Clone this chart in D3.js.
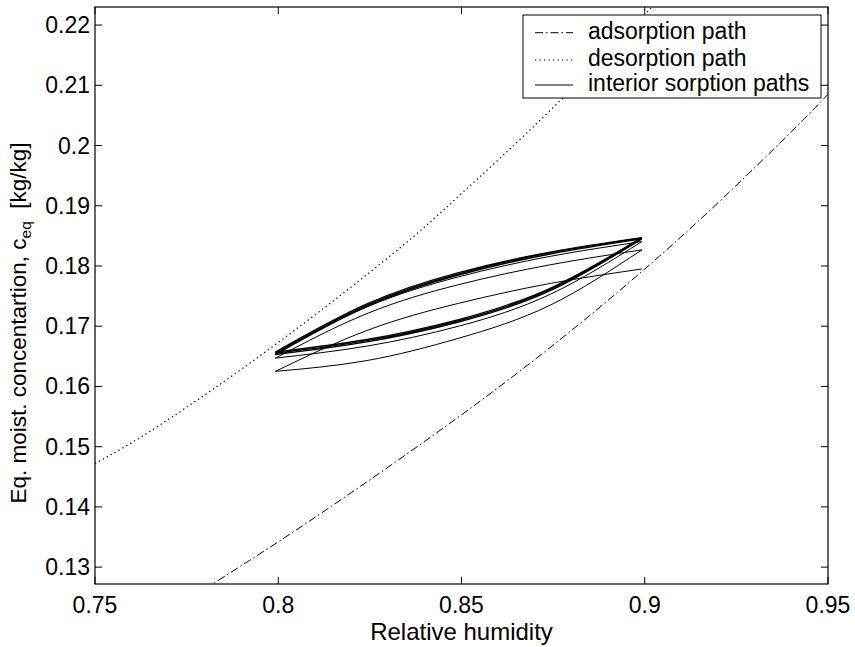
<!DOCTYPE html>
<html>
<head>
<meta charset="utf-8">
<script src="https://cdn.jsdelivr.net/npm/d3@7"></script>
<style>
  html, body { margin: 0; padding: 0; background: #fff; }
  svg text { font-family: "Liberation Sans", Arial, Helvetica, sans-serif; fill: #000; }
</style>
</head>
<body>
<svg id="chart" width="855" height="647"></svg>
<script>
// ---------------- data ----------------
const xTicks = [0.75, 0.8, 0.85, 0.9, 0.95];
const xTickLabels = ["0.75", "0.8", "0.85", "0.9", "0.95"];
const yTicks = [0.13, 0.14, 0.15, 0.16, 0.17, 0.18, 0.19, 0.2, 0.21, 0.22];
const yTickLabels = ["0.13", "0.14", "0.15", "0.16", "0.17", "0.18", "0.19", "0.2", "0.21", "0.22"];
const xDomain = [0.75, 0.95];
const yDomain = [0.1272, 0.2230];

// adsorption boundary (dash-dot)
const adsX = [0.780, 0.800, 0.820, 0.840, 0.860, 0.880, 0.900, 0.920, 0.940, 0.950];
const adsY = [0.1264, 0.1342, 0.1424, 0.1509, 0.1598, 0.1693, 0.1795, 0.1905, 0.2023, 0.2085];

// desorption boundary (dotted)
const desX = [0.750, 0.7677, 0.7991, 0.8314, 0.8496, 0.875, 0.902, 0.912];
const desY = [0.1472, 0.1536, 0.1669, 0.1821, 0.1918, 0.2063, 0.2230, 0.2292];

// interior sorption paths: RH positions and concentrations along each pass
const interiorX = [0.7992, 0.8242, 0.8492, 0.8742, 0.8992];
const pathD = [0.1625, 0.1693, 0.1738, 0.1771, 0.1795];   // first desorption scan
const pathE = [0.1625, 0.1643, 0.1680, 0.1735, 0.18267];  // adsorption scan
const pathF = [0.1647, 0.1721, 0.1769, 0.1802, 0.18267];  // desorption scan
const pathG = [0.1647, 0.1667, 0.1700, 0.1753, 0.18405];  // adsorption scan
const pathH = [0.1655, 0.1732, 0.1782, 0.1816, 0.18405];  // desorption scan
const loopUp1 = [0.1655, 0.1735, 0.1787, 0.1822, 0.18463]; // steady loop, upper branch
const loopUp2 = [0.1653, 0.1733, 0.1785, 0.1820, 0.18450];
const loopUp3 = [0.1657, 0.1737, 0.1789, 0.1823, 0.18470];
const loopLo1 = [0.1655, 0.1676, 0.1709, 0.1761, 0.18463]; // steady loop, lower branch
const loopLo2 = [0.1653, 0.1674, 0.1707, 0.1759, 0.18450];
const loopLo3 = [0.1657, 0.1678, 0.1711, 0.1763, 0.18470];

const legendLabels = ["adsorption path", "desorption path", "interior sorption paths"];

// ---------------- chart ----------------
const svg = d3.select("#chart");
const pL = 95, pR = 828, pT = 7, pB = 584;
const x = d3.scaleLinear().domain(xDomain).range([pL, pR]);
const y = d3.scaleLinear().domain(yDomain).range([pB, pT]);

svg.append("defs").append("clipPath").attr("id", "plotclip")
  .append("rect").attr("x", pL).attr("y", pT).attr("width", pR - pL).attr("height", pB - pT);

const plot = svg.append("g").attr("clip-path", "url(#plotclip)");
const line = d3.line().x(d => x(d[0])).y(d => y(d[1])).curve(d3.curveNatural);
const zip = (xs, ys) => xs.map((v, i) => [v, ys[i]]);

plot.append("path").attr("d", line(zip(adsX, adsY)))
  .attr("fill", "none").attr("stroke", "#000").attr("stroke-width", 1)
  .attr("stroke-dasharray", "8,3,1.5,3");
plot.append("path").attr("d", line(zip(desX, desY)))
  .attr("fill", "none").attr("stroke", "#000").attr("stroke-width", 1.2)
  .attr("stroke-dasharray", "1.3,3.2");

const interior = [pathD, pathE, pathF, pathG, pathH];
interior.forEach(p => {
  plot.append("path").attr("d", line(zip(interiorX, p)))
    .attr("fill", "none").attr("stroke", "#000").attr("stroke-width", 1);
});
[loopUp1, loopUp2, loopUp3, loopLo1, loopLo2, loopLo3].forEach(p => {
  plot.append("path").attr("d", line(zip(interiorX, p)))
    .attr("fill", "none").attr("stroke", "#000").attr("stroke-width", 1.4);
});

// axes box
svg.append("rect").attr("x", pL).attr("y", pT).attr("width", pR - pL).attr("height", pB - pT)
  .attr("fill", "none").attr("stroke", "#000").attr("stroke-width", 1.2);

const tickLen = 7;
const fs = 23;
xTicks.forEach((t, i) => {
  const px = x(t);
  svg.append("line").attr("x1", px).attr("x2", px).attr("y1", pB).attr("y2", pB - tickLen).attr("stroke", "#000");
  svg.append("line").attr("x1", px).attr("x2", px).attr("y1", pT).attr("y2", pT + tickLen).attr("stroke", "#000");
  svg.append("text").attr("x", px).attr("y", 612.5).attr("text-anchor", "middle")
    .style("font-size", fs + "px").text(xTickLabels[i]);
});
yTicks.forEach((t, i) => {
  const py = y(t);
  svg.append("line").attr("x1", pL).attr("x2", pL + tickLen).attr("y1", py).attr("y2", py).attr("stroke", "#000");
  svg.append("line").attr("x1", pR).attr("x2", pR - tickLen).attr("y1", py).attr("y2", py).attr("stroke", "#000");
  svg.append("text").attr("x", 90).attr("y", py + 8).attr("text-anchor", "end")
    .style("font-size", fs + "px").text(yTickLabels[i]);
});

svg.append("text").attr("x", (pL + pR) / 2).attr("y", 640).attr("text-anchor", "middle")
  .style("font-size", "24px").text("Relative humidity");

const yl = svg.append("text").attr("transform", "translate(26,323) rotate(-90)")
  .attr("text-anchor", "middle").style("font-size", "22.5px");
yl.append("tspan").text("Eq. moist. concentartion, c");
yl.append("tspan").attr("dy", 5).style("font-size", "15.5px").text("eq");
yl.append("tspan").attr("dy", -5).text("\u00a0\u00a0[kg/kg]");

const lg = svg.append("g");
lg.append("rect").attr("x", 523).attr("y", 15).attr("width", 298).attr("height", 83)
  .attr("fill", "#fff").attr("stroke", "#000").attr("stroke-width", 1);
const legendDash = ["8,3,1.5,3", "1.3,3.2", null];
const rowY = [32.7, 60, 85];
legendLabels.forEach((lab, i) => {
  const l = lg.append("line").attr("x1", 535).attr("x2", 573).attr("y1", rowY[i]).attr("y2", rowY[i])
    .attr("stroke", "#000").attr("stroke-width", 1);
  if (legendDash[i]) l.attr("stroke-dasharray", legendDash[i]);
  lg.append("text").attr("x", 588).attr("y", rowY[i] + 6).style("font-size", fs + "px").text(lab);
});
</script>
</body>
</html>
